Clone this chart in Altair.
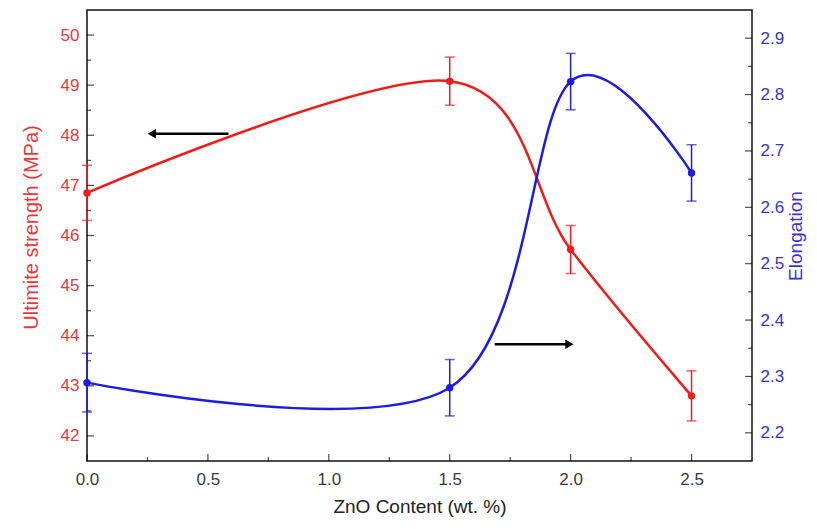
import altair as alt
import pandas as pd

# ---- data ----
zno = [0.0, 1.5, 2.0, 2.5]
strength = [46.85, 49.08, 45.72, 42.80]
strength_err = [0.55, 0.48, 0.48, 0.5]
elong = [2.289, 2.280, 2.823, 2.661]
elong_err = [0.052, 0.05, 0.05, 0.05]

x_major = [0.0, 0.5, 1.0, 1.5, 2.0, 2.5]
x_minor = [0.25, 0.75, 1.25, 1.75, 2.25]
left_major = [42, 43, 44, 45, 46, 47, 48, 49, 50]
left_minor = [42.5, 43.5, 44.5, 45.5, 46.5, 47.5, 48.5, 49.5]
right_major = [2.2, 2.3, 2.4, 2.5, 2.6, 2.7, 2.8, 2.9]
right_minor = [2.25, 2.35, 2.45, 2.55, 2.65, 2.75, 2.85]

# arrows (annotation): start x, end x (head), y on the respective axis
arrow_left = {"x": [0.585], "x2": [0.268], "y": [48.03]}
arrow_right = {"x": [1.686], "x2": [1.995], "y": [2.357]}

RED = "#ee1c1c"
BLUE = "#1c1ce0"
RED_LBL = "#e8383c"
BLUE_LBL = "#3535c8"
FONT = "Liberation Sans"
LBL = 17
TTL = 20
W, H = 665, 451

xdom = [0, 2.75]
ldom = [41.5, 50.5]
rdom = [2.15, 2.95]

red = pd.DataFrame({"x": zno, "y": strength, "e": strength_err})
red["lo"] = red["y"] - red["e"]
red["hi"] = red["y"] + red["e"]
blue = pd.DataFrame({"x": zno, "y": elong, "e": elong_err})
blue["lo"] = blue["y"] - blue["e"]
blue["hi"] = blue["y"] + blue["e"]

xs = alt.Scale(domain=xdom, nice=False, zero=False)
ls = alt.Scale(domain=ldom, nice=False, zero=False)
rs = alt.Scale(domain=rdom, nice=False, zero=False)

x_axis = alt.Axis(values=x_major, format=".1f", ticks=False, domain=False, grid=False,
                  labelFlush=False,
                  labelFont=FONT, labelFontSize=LBL, labelColor="#3a3a3a", labelPadding=10,
                  title="ZnO Content (wt. %)", titleFont=FONT, titleFontSize=TTL - 1,
                  titleFontWeight="normal", titleColor="#222222", titlePadding=10)
l_axis = alt.Axis(values=left_major, format="d", ticks=False, domain=False, grid=False,
                  labelFlush=False,
                  labelFont=FONT, labelFontSize=LBL, labelColor=RED_LBL, labelPadding=8,
                  title="Ultimite strength (MPa)", titleFont=FONT, titleFontSize=TTL,
                  titleFontWeight="normal", titleColor=RED_LBL, titlePadding=19, titleY=217)
r_axis = alt.Axis(values=right_major, format=".1f", ticks=False, domain=False, grid=False,
                  orient="right", labelFlush=False,
                  labelFont=FONT, labelFontSize=LBL, labelColor=BLUE_LBL, labelPadding=8,
                  title="Elongation", titleFont=FONT, titleFontSize=TTL - 1, titleAngle=270,
                  titleFontWeight="normal", titleColor=BLUE_LBL, titlePadding=22)


def X(field="x"):
    return alt.X(f"{field}:Q", scale=xs, axis=x_axis)


def YL(field="y"):
    return alt.Y(f"{field}:Q", scale=ls, axis=l_axis)


def YR(field="y"):
    return alt.Y(f"{field}:Q", scale=rs, axis=r_axis)


def series(df, color, Y):
    line = alt.Chart(df).mark_line(color=color, strokeWidth=2.5,
                                   interpolate="cardinal").encode(x=X(), y=Y())
    rule = alt.Chart(df).mark_rule(color=color, strokeWidth=1.5).encode(
        x=X(), y=Y("lo"), y2="hi:Q")
    cap_lo = alt.Chart(df).mark_tick(color=color, orient="horizontal", size=10,
                                     thickness=1.5).encode(x=X(), y=Y("lo"))
    cap_hi = alt.Chart(df).mark_tick(color=color, orient="horizontal", size=10,
                                     thickness=1.5).encode(x=X(), y=Y("hi"))
    pts = alt.Chart(df).mark_point(color=color, filled=True, opacity=1,
                                   size=55).encode(x=X(), y=Y())
    return [line, rule, cap_lo, cap_hi, pts]


def arrow(d, shape, Y):
    df = pd.DataFrame(d)
    ln = alt.Chart(df).mark_rule(color="black", strokeWidth=2.5).encode(
        x=X(), x2="x2:Q", y=Y())
    head = alt.Chart(df).mark_point(shape=shape, filled=True, color="black",
                                    opacity=1, size=90).encode(x=X("x2"), y=Y())
    return [ln, head]


def yticks(vals, Y, xpix, length):
    return alt.Chart(pd.DataFrame({"y": vals})).mark_tick(
        color="black", orient="horizontal", size=length, thickness=1.2).encode(
        x=alt.value(xpix), y=Y())


def xticks(vals, length):
    return alt.Chart(pd.DataFrame({"x": vals})).mark_tick(
        color="black", orient="vertical", size=length, thickness=1.2).encode(
        x=X(), y=alt.value(H - length / 2))


left = alt.layer(
    *series(red, RED, YL),
    yticks(left_major, YL, 3.5, 7),
    yticks(left_minor, YL, 2, 4),
    xticks(x_major, 7),
    xticks(x_minor, 4),
    *arrow(arrow_left, "triangle-left", YL),
)

right = alt.layer(
    *series(blue, BLUE, YR),
    yticks(right_major, YR, W - 3.5, 7),
    yticks(right_minor, YR, W - 2, 4),
    *arrow(arrow_right, "triangle-right", YR),
)

chart = alt.layer(left, right).resolve_scale(y="independent").properties(
    width=W, height=H,
    autosize=alt.AutoSizeParams(type="none"),
    padding={"left": 79, "top": 2, "right": 57, "bottom": 60},
    background="white",
).configure_view(stroke="#111111", strokeWidth=1.5)

chart.save("out.html", embed_options={"renderer": "svg", "actions": False})
